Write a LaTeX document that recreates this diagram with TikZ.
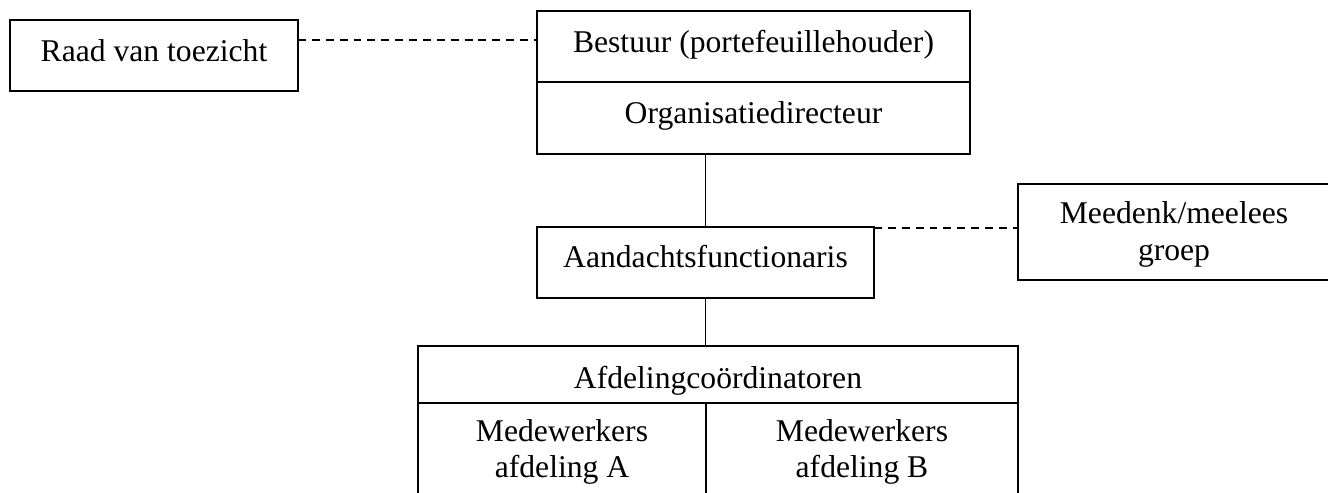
\documentclass[tikz,border=0pt]{standalone}
\usepackage{fontspec}
\setmainfont{Liberation Serif}
\usepackage{tikz}
\usetikzlibrary{positioning,calc}

\begin{document}
\begin{tikzpicture}[
  font=\fontsize{18pt}{21pt}\selectfont,
  box/.style={draw, line width=0.9pt, inner sep=0pt, outer sep=0pt, anchor=north west},
  lbl/.style={anchor=base, align=center, inner sep=0pt},
  link/.style={line width=0.9pt},
  loose/.style={line width=0.9pt, dash pattern=on 4.5pt off 3.4pt}
]
\useasboundingbox (0,0) rectangle (26.56,-9.84);
% boxes
\node[box, minimum width=5.76cm, minimum height=1.42cm] (raad) at (0.2,-0.4) {};
\node[box, minimum width=8.66cm, minimum height=1.42cm] (bestuur) at (10.74,-0.22) {};
\node[box, minimum width=8.66cm, minimum height=1.44cm, below=0pt of bestuur] (org) {};
\node[box, minimum width=6.74cm, minimum height=1.42cm] (aandacht) at (10.74,-4.54) {};
\node[box, minimum width=6.26cm, minimum height=1.92cm] (meedenk) at (20.36,-3.68) {};
\node[box, minimum width=12cm, minimum height=1.14cm] (coord) at (8.36,-6.92) {};
\node[box, minimum width=5.76cm, minimum height=2cm, below=0pt of coord.south west, anchor=north west] (mwa) {};
\node[box, minimum width=6.24cm, minimum height=2cm, right=0pt of mwa.north east, anchor=north west] (mwb) {};
% texts (base of a two-line text is its last line)
\node[lbl] (raad-t) at ([yshift=-0.82cm]raad.north) {Raad van toezicht};
\node[lbl] (bestuur-t) at ([yshift=-0.82cm]bestuur.north) {Bestuur (portefeuillehouder)};
\node[lbl] (org-t) at ([yshift=-0.82cm]org.north) {Organisatiedirecteur};
\node[lbl] (aandacht-t) at ([yshift=-0.8cm]aandacht.north) {Aandachtsfunctionaris};
\node[lbl] (meedenk-t) at ([xshift=-0.01cm, yshift=-1.52cm]meedenk.north) {Meedenk/meelees\\groep};
\node[lbl] (coord-t) at ([yshift=-0.84cm]coord.north) {Afdelingcoördinatoren};
\node[lbl] (mwa-t) at ([yshift=-1.48cm]mwa.north) {Medewerkers\\[-1pt]afdeling A};
\node[lbl] (mwb-t) at ([yshift=-1.48cm]mwb.north) {Medewerkers\\[-1pt]afdeling B};
% connectors
\draw[loose] ([yshift=-0.4cm]raad.north east) -- ([yshift=-0.4cm]raad.north east -| bestuur.west);
\draw[link] (aandacht.north |- org.south) -- (aandacht.north);
\draw[loose] ([yshift=-0.02cm]aandacht.north east) -- ([yshift=-0.02cm]aandacht.north east -| meedenk.west);
\draw[link] (aandacht.south) -- (aandacht.south |- coord.north);
\end{tikzpicture}
\end{document}
